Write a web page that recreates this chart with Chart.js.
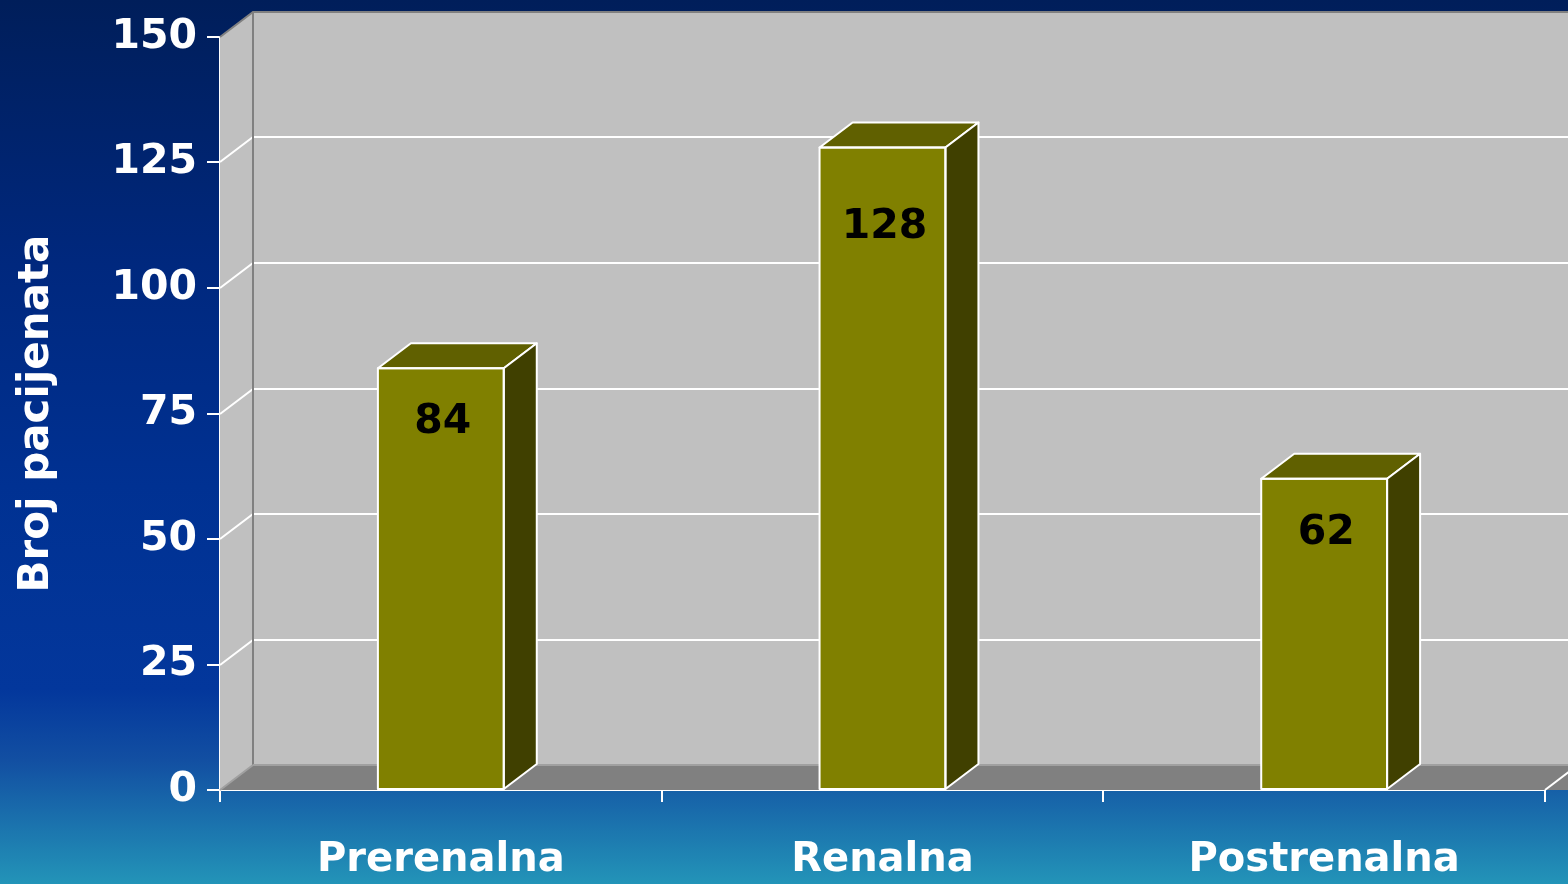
<!DOCTYPE html>
<html>
<head>
<meta charset="utf-8">
<script src="https://cdn.jsdelivr.net/npm/chart.js@4.4.1/dist/chart.umd.min.js"></script>
<style>
html,body{margin:0;padding:0;background:#001E5A;}
#wrap{width:1568px;height:884px;position:relative;}
</style>
</head>
<body>
<div id="wrap"><canvas id="c" width="1568" height="884"></canvas></div>
<script>
const categories = ['Prerenalna', 'Renalna', 'Postrenalna'];
const patients = [84, 128, 62];
const yTicks = [0, 25, 50, 75, 100, 125, 150];
const yTitle = 'Broj pacijenata';

const FONT = '"DejaVu Sans", sans-serif';
const DX = 33, DY = -25;

const bgPlugin = {
  id: 'bg',
  beforeDraw(chart) {
    const ctx = chart.ctx, w = chart.width, h = chart.height;
    const g = ctx.createLinearGradient(0, 0, 0, h);
    g.addColorStop(0, '#001E5A');
    g.addColorStop(0.3, '#00287E');
    g.addColorStop(0.55, '#003192');
    g.addColorStop(0.78, '#03379C');
    g.addColorStop(0.86, '#124FA2');
    g.addColorStop(1, '#2394B8');
    ctx.save();
    ctx.fillStyle = g;
    ctx.fillRect(0, 0, w, h);
    ctx.restore();
  }
};

const wallsPlugin = {
  id: 'walls',
  beforeDatasetsDraw(chart) {
    const ctx = chart.ctx, a = chart.chartArea, y = chart.scales.y;
    const L = a.left, R = a.right, T = a.top, B = a.bottom;
    ctx.save();
    ctx.fillStyle = '#C0C0C0';
    ctx.fillRect(L + DX, T + DY, R - L + 40, B - T);
    ctx.beginPath();
    ctx.moveTo(L, T); ctx.lineTo(L + DX, T + DY); ctx.lineTo(L + DX, B + DY); ctx.lineTo(L, B);
    ctx.closePath(); ctx.fill();
    ctx.fillStyle = '#808080';
    ctx.beginPath();
    ctx.moveTo(L, B); ctx.lineTo(L + DX, B + DY); ctx.lineTo(R + DX + 40, B + DY); ctx.lineTo(R + 40, B);
    ctx.closePath(); ctx.fill();
    ctx.strokeStyle = '#FFFFFF'; ctx.lineWidth = 2;
    yTicks.forEach(v => {
      if (v === 0 || v === yTicks[yTicks.length - 1]) return;
      const py = Math.round(y.getPixelForValue(v));
      ctx.beginPath();
      ctx.moveTo(L, py); ctx.lineTo(L + DX, py + DY); ctx.lineTo(R + DX + 40, py + DY);
      ctx.stroke();
    });
    ctx.strokeStyle = '#808080'; ctx.lineWidth = 2;
    ctx.beginPath();
    ctx.moveTo(L, T); ctx.lineTo(L + DX, T + DY); ctx.lineTo(R + DX + 40, T + DY);
    ctx.moveTo(L + DX, T + DY); ctx.lineTo(L + DX, B + DY);
    ctx.stroke();
    ctx.strokeStyle = '#A0A0A0'; ctx.lineWidth = 2;
    ctx.beginPath();
    ctx.moveTo(L + DX, B + DY); ctx.lineTo(R + DX + 40, B + DY);
    ctx.moveTo(L, B); ctx.lineTo(L + DX, B + DY);
    ctx.stroke();
    ctx.strokeStyle = '#FFFFFF'; ctx.lineWidth = 2;
    ctx.beginPath();
    ctx.moveTo(R, B); ctx.lineTo(R + DX, B + DY);
    ctx.stroke();
    ctx.restore();
  },
  afterDatasetsDraw(chart) {
    const ctx = chart.ctx;
    const meta = chart.getDatasetMeta(0);
    ctx.save();
    ctx.lineWidth = 2; ctx.strokeStyle = '#FFFFFF'; ctx.lineJoin = 'round';
    meta.data.forEach((bar, i) => {
      const p = bar.getProps(['x', 'y', 'base', 'width'], true);
      const l = p.x - p.width / 2, r = p.x + p.width / 2, t = p.y, b = p.base;
      ctx.fillStyle = '#606000';
      ctx.beginPath();
      ctx.moveTo(l, t); ctx.lineTo(l + DX, t + DY); ctx.lineTo(r + DX, t + DY); ctx.lineTo(r, t);
      ctx.closePath(); ctx.fill(); ctx.stroke();
      ctx.fillStyle = '#404000';
      ctx.beginPath();
      ctx.moveTo(r, t); ctx.lineTo(r + DX, t + DY); ctx.lineTo(r + DX, b + DY); ctx.lineTo(r, b);
      ctx.closePath(); ctx.fill(); ctx.stroke();
      ctx.strokeRect(l, t, r - l, b - t);
      const offs = [54, 80, 55];
      ctx.fillStyle = '#000000';
      ctx.font = 'bold 41px ' + FONT;
      ctx.textAlign = 'center'; ctx.textBaseline = 'middle';
      ctx.fillText(String(patients[i]), p.x + 2, t + offs[i]);
    });
    ctx.restore();
  }
};

new Chart(document.getElementById('c'), {
  type: 'bar',
  data: {
    labels: categories,
    datasets: [{
      data: patients,
      backgroundColor: '#808000',
      borderWidth: 0,
      barPercentage: 0.285,
      categoryPercentage: 1
    }]
  },
  options: {
    responsive: false,
    animation: false,
    devicePixelRatio: 1,
    layout: { padding: { top: 37, right: 23, left: 0, bottom: 0 } },
    plugins: { legend: { display: false }, tooltip: { enabled: false } },
    scales: {
      x: {
        afterFit(s) { s.height = 94; },
        grid: { display: true, drawOnChartArea: false, tickLength: 12, color: '#FFFFFF', lineWidth: 2, offset: true },
        border: { display: true, color: '#FFFFFF', width: 2 },
        ticks: { color: '#FFFFFF', font: { family: FONT, size: 40, weight: 'bold' }, padding: 35 }
      },
      y: {
        min: 0, max: 150,
        afterFit(s) { s.width = 220; },
        afterBuildTicks(s) { s.ticks = yTicks.map(v => ({ value: v })); },
        grid: { display: true, drawOnChartArea: false, tickLength: 13, color: '#FFFFFF', lineWidth: 2 },
        border: { display: true, color: '#FFFFFF', width: 2 },
        ticks: { color: '#FFFFFF', font: { family: FONT, size: 41, weight: 'bold' }, padding: 10 },
        title: { display: true, text: yTitle, color: '#FFFFFF', font: { family: FONT, size: 42, weight: 'bold' }, padding: { top: 12, bottom: 0 } }
      }
    }
  },
  plugins: [bgPlugin, wallsPlugin]
});
</script>
</body>
</html>
